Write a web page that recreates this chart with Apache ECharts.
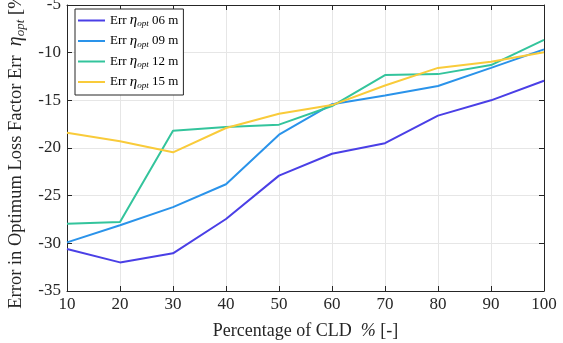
<!DOCTYPE html>
<html>
<head>
<meta charset="utf-8">
<script src="https://cdn.jsdelivr.net/npm/echarts@6/dist/echarts.min.js"></script>
<style>
  html, body { margin: 0; padding: 0; background: #fff; }
  #chart { width: 563px; height: 343px; }
</style>
</head>
<body>
<div id="chart"></div>
<script>
var cld = [10, 20, 30, 40, 50, 60, 70, 80, 90, 100];
var err06 = [-30.6, -32.0, -31.05, -27.45, -22.9, -20.6, -19.5, -16.6, -15.0, -12.95];
var err09 = [-29.9, -28.1, -26.2, -23.8, -18.6, -15.4, -14.5, -13.5, -11.6, -9.65];
var err12 = [-27.95, -27.75, -18.2, -17.8, -17.55, -15.6, -12.35, -12.25, -11.3, -8.65];
var err15 = [-18.4, -19.3, -20.45, -17.9, -16.4, -15.5, -13.45, -11.6, -10.95, -9.95];
var seriesNames = ['06 m', '09 m', '12 m', '15 m'];
var colors = ['#4a3fe6', '#2a93ea', '#33c49c', '#f9cb3a'];

var font = 'Liberation Serif';

function pairs(ys) {
    return cld.map(function (x, i) { return [x, ys[i]]; });
}

var chart = echarts.init(document.getElementById('chart'));

var xAxisBase = {
    type: 'value',
    min: 10,
    max: 100,
    interval: 10,
    axisLine: { lineStyle: { color: '#262626', width: 1 } },
    axisTick: { inside: true, length: 5, lineStyle: { color: '#262626' } },
};
var yAxisBase = {
    type: 'value',
    min: -35,
    max: -5,
    interval: 5,
    axisLine: { show: true, lineStyle: { color: '#262626', width: 1 } },
    axisTick: { show: true, inside: true, length: 5, lineStyle: { color: '#262626' } },
};

var option = {
    animation: false,
    color: colors,
    grid: { left: 67, right: 19, top: 5, bottom: 52, containLabel: false, outerBoundsMode: 'none' },
    legend: {
        left: 75,
        top: 9,
        orient: 'vertical',
        backgroundColor: '#fff',
        borderColor: '#262626',
        borderWidth: 1,
        borderRadius: 0,
        padding: [4, 5, 5, 3],
        itemGap: 5,
        itemWidth: 27,
        itemHeight: 15,
        icon: 'path://M0,7 L27,7 L27,9 L0,9 Z',
        data: seriesNames.map(function (n) { return { name: n }; }),
        formatter: function (name) {
            return '{a|Err }{e|η}{s|opt}{a| ' + name + '}';
        },
        textStyle: {
            fontFamily: font,
            color: '#000',
            rich: {
                a: { fontFamily: font, fontSize: 13, color: '#000' },
                e: { fontFamily: font, fontSize: 15, fontStyle: 'italic', color: '#000' },
                s: { fontFamily: font, fontSize: 9, fontStyle: 'italic', color: '#000', padding: [7, 0, 0, 0] }
            }
        }
    },
    xAxis: [
        Object.assign({}, xAxisBase, {
            position: 'bottom',
            name: 'Percentage of CLD  {i|%} [-]',
            nameLocation: 'middle',
            nameGap: 31,
            nameTextStyle: {
                fontFamily: font, fontSize: 18, color: '#262626',
                rich: { i: { fontFamily: font, fontSize: 18, fontStyle: 'italic', color: '#262626' } }
            },
            axisLabel: { fontFamily: font, fontSize: 17, color: '#262626', margin: 5 },
            splitLine: { show: true, lineStyle: { color: '#e6e6e6' } }
        }),
        Object.assign({}, xAxisBase, {
            position: 'top',
            axisLabel: { show: false },
            splitLine: { show: false }
        })
    ],
    yAxis: [
        Object.assign({}, yAxisBase, {
            position: 'left',
            name: 'Error in Optimum Loss Factor Err  {e|η}{s|opt} [%]',
            nameLocation: 'middle',
            nameGap: 37,
            nameTextStyle: {
                fontFamily: font, fontSize: 18.5, color: '#262626',
                rich: {
                    e: { fontFamily: font, fontSize: 20, fontStyle: 'italic', color: '#262626' },
                    s: { fontFamily: font, fontSize: 13, fontStyle: 'italic', color: '#262626', padding: [10, 0, 0, 0] }
                }
            },
            axisLabel: { fontFamily: font, fontSize: 17, color: '#262626', margin: 6 },
            splitLine: { show: true, lineStyle: { color: '#e6e6e6' } }
        }),
        Object.assign({}, yAxisBase, {
            position: 'right',
            axisLabel: { show: false },
            splitLine: { show: false }
        })
    ],
    series: [err06, err09, err12, err15].map(function (ys, i) {
        return {
            name: seriesNames[i],
            type: 'line',
            data: pairs(ys),
            symbol: 'none',
            lineStyle: { width: 2, color: colors[i] },
            itemStyle: { color: colors[i] }
        };
    })
};

chart.setOption(option);
</script>
</body>
</html>
